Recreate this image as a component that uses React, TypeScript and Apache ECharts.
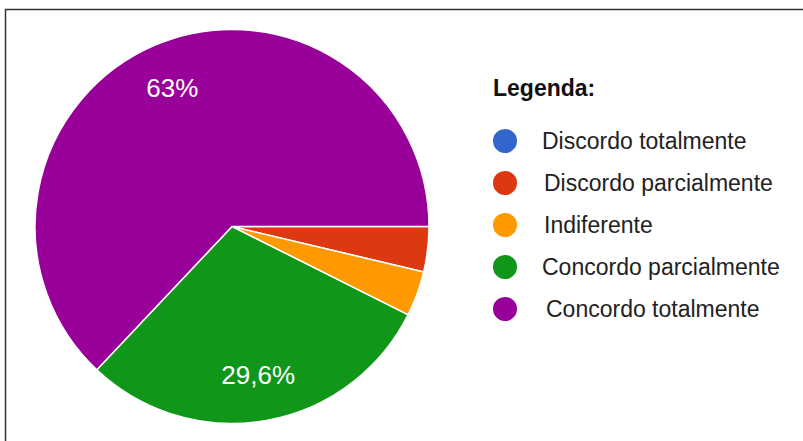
import React, { useEffect, useRef } from "react";
import * as echarts from "echarts";

const categories = [
  "Discordo totalmente",
  "Discordo parcialmente",
  "Indiferente",
  "Concordo parcialmente",
  "Concordo totalmente",
];
const counts = [0, 1, 1, 8, 17];
const colors = ["#3366cc", "#dc3912", "#ff9900", "#109618", "#990099"];
const legendTitle = "Legenda:";
const textPads = [19, 21, 21, 19, 23];

const FONT = "Liberation Sans, Arial, sans-serif";

export default function App() {
  const ref = useRef<HTMLDivElement>(null);
  useEffect(() => {
    if (!ref.current) return;
    const chart = echarts.init(ref.current, undefined, { renderer: "svg" });
    const total = counts.reduce((a, b) => a + b, 0);
    const fmt = (v: number) => {
      const p = parseFloat(((v / total) * 100).toPrecision(3));
      return String(p).replace(".", ",") + "%";
    };
    const data = categories.map((name, i) => ({
      name,
      value: counts[i],
      itemStyle: { color: colors[i] },
    }));
    chart.setOption({
      animation: false,
      legend: {
        orient: "vertical",
        left: 491,
        top: 127,
        padding: 0,
        itemWidth: 26,
        itemHeight: 26,
        itemGap: 14,
        icon: "circle",
        selectedMode: false,
        data: categories.map((name, i) => ({
          name,
          textStyle: { padding: [0, 0, 0, textPads[i]] },
        })),
        textStyle: { fontFamily: FONT, fontSize: 23, lineHeight: 26, color: "#222" },
      },
      graphic: [
        {
          type: "rect",
          shape: { x: 5.5, y: 9.5, width: 900, height: 600 },
          style: { fill: "none", stroke: "#333", lineWidth: 1.5 },
          silent: true,
        },
        {
          type: "text",
          x: 493,
          y: 88,
          style: {
            text: legendTitle,
            font: `bold 23px ${FONT}`,
            fill: "#111",
            verticalAlign: "middle",
          },
        },
      ],
      series: [
        {
          type: "pie",
          center: [232, 226.5],
          radius: [0, 197],
          startAngle: 0,
          clockwise: true,
          avoidLabelOverlap: false,
          label: { show: false },
          labelLine: { show: false },
          itemStyle: { borderColor: "#fff", borderWidth: 1.5 },
          emphasis: { disabled: true },
          data,
        },
        {
          type: "pie",
          center: [232, 226.5],
          radius: [98.5, 197],
          startAngle: 0,
          clockwise: true,
          silent: true,
          avoidLabelOverlap: false,
          itemStyle: { color: "rgba(0,0,0,0)" },
          emphasis: { disabled: true },
          label: {
            show: true,
            position: "inside",
            color: "#fff",
            fontFamily: FONT,
            fontSize: 26,
            formatter: (p: any) => (p.percent >= 5 ? fmt(p.value) : ""),
          },
          labelLine: { show: false },
          data: categories.map((name, i) => ({ name, value: counts[i] })),
        },
      ],
    });
    return () => chart.dispose();
  }, []);
  return (
    <div
      ref={ref}
      style={{ position: "absolute", left: 0, top: 0, width: 803, height: 441, background: "#fff" }}
    />
  );
}
